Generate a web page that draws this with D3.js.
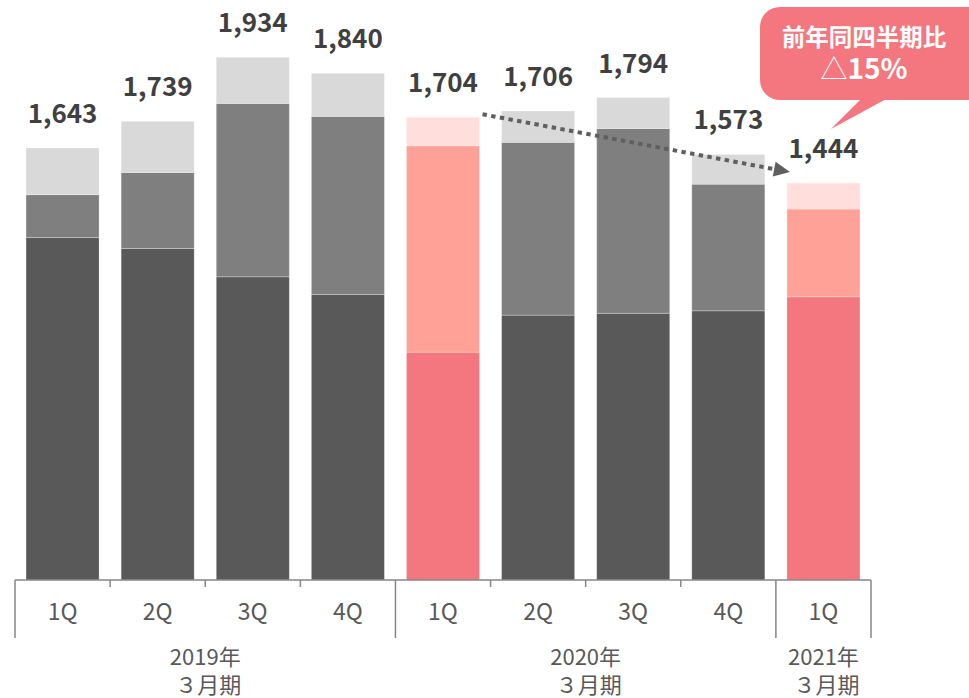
<!DOCTYPE html>
<html>
<head>
<meta charset="utf-8">
<script src="https://cdn.jsdelivr.net/npm/d3@7"></script>
<style>
  body { margin: 0; background: #fff; }
  svg { display: block; }
</style>
</head>
<body>
<div id="chart"></div>
<script>
// quarters on the axis
const quarters = ["1Q", "2Q", "3Q", "4Q", "1Q", "2Q", "3Q", "4Q", "1Q"];
// fiscal periods (first / last quarter index)
const periods = [
  { lines: ["2019年", "３月期"], from: 0, to: 3 },
  { lines: ["2020年", "３月期"], from: 4, to: 7 },
  { lines: ["2021年", "３月期"], from: 8, to: 8 }
];
// stacked segments, bottom to top
const segBottom = [1268, 1228, 1123, 1058, 844, 981, 988, 997, 1049];
const segMiddle = [159, 281, 642, 659, 764, 640, 684, 469, 325];
const segTop = [173, 190, 171, 160, 106, 116, 115, 110, 96];
// labels shown above the bars
const totals = [1643, 1739, 1934, 1840, 1704, 1706, 1794, 1573, 1444];
// quarters drawn in the highlight colours
const highlighted = [false, false, false, false, true, false, false, false, true];

const callout = ["前年同四半期比", "15%"];

const GREYS = ["#595959", "#7f7f7f", "#d9d9d9"];
const PINKS = ["#f4777f", "#ffa197", "#ffdedb"];
const FONT = "'Noto Sans CJK JP', 'Noto Sans', sans-serif";

const width = 969, height = 698;
const svg = d3.select("#chart").append("svg")
  .attr("width", width)
  .attr("height", height);

const x = d3.scaleBand()
  .domain(d3.range(quarters.length))
  .range([15, 871])
  .paddingInner(0.232)
  .paddingOuter(0.116);
const step = x.step();
const bw = x.bandwidth();

const y = d3.scaleLinear().domain([0, 2000]).range([580, 40]);

const rows = quarters.map((q, i) => ({
  i, q, a: segBottom[i], b: segMiddle[i], c: segTop[i], total: totals[i], hi: highlighted[i]
}));
const stack = d3.stack().keys(["a", "b", "c"]);
const series = stack(rows);

// bars
const barsG = svg.append("g");
series.forEach((s, k) => {
  barsG.append("g").selectAll("rect")
    .data(s)
    .join("rect")
    .attr("x", d => x(d.data.i))
    .attr("width", bw)
    .attr("y", d => y(d[1]))
    .attr("height", d => y(d[0]) - y(d[1]))
    .attr("fill", d => (d.data.hi ? PINKS : GREYS)[k])
    .attr("stroke", "#ffffff")
    .attr("stroke-opacity", 0.35)
    .attr("stroke-width", 0.8);
});

// value labels
const topOf = i => y(series[2][i][1]);
svg.append("g").selectAll("text")
  .data(rows)
  .join("text")
  .attr("x", d => x(d.i) + bw / 2)
  .attr("y", d => topOf(d.i) - 25)
  .attr("text-anchor", "middle")
  .style("font-family", FONT)
  .style("font-size", "26px")
  .style("font-weight", 700)
  .style("fill", "#404040")
  .text(d => d3.format(",")(d.total));

// axis
const axisY = y(0);
const axisG = svg.append("g").attr("stroke", "#868686").attr("stroke-width", 1.5);
axisG.append("line")
  .attr("x1", x.range()[0]).attr("x2", x.range()[1])
  .attr("y1", axisY).attr("y2", axisY);

const boundaries = d3.range(quarters.length + 1);
const longTicks = new Set([0, ...periods.map(p => p.to + 1)]);
axisG.selectAll("line.tick")
  .data(boundaries)
  .join("line")
  .attr("class", "tick")
  .attr("x1", b => x.range()[0] + b * step)
  .attr("x2", b => x.range()[0] + b * step)
  .attr("y1", axisY)
  .attr("y2", b => longTicks.has(b) ? axisY + 58 : axisY + 7);

svg.append("g").selectAll("text")
  .data(rows)
  .join("text")
  .attr("x", d => x(d.i) + bw / 2)
  .attr("y", axisY + 40)
  .attr("text-anchor", "middle")
  .style("font-family", FONT)
  .style("font-size", "23px")
  .style("fill", "#595959")
  .text(d => d.q);

const periodG = svg.append("g");
periods.forEach(p => {
  const cx = (x.range()[0] + p.from * step + x.range()[0] + (p.to + 1) * step) / 2;
  p.lines.forEach((ln, j) => {
    periodG.append("text")
      .attr("x", cx + j * 3)
      .attr("y", axisY + 85 + j * 28)
      .attr("text-anchor", "middle")
      .style("font-family", FONT)
      .style("font-size", "22px")
      .style("fill", "#595959")
      .text(ln);
  });
});

// dotted trend arrow from 2020 1Q to 2021 1Q
const p0 = [x(4) + bw + 3, topOf(4) - 3];
const p1 = [x(8) + 3, topOf(8) - 11];
const ang = Math.atan2(p1[1] - p0[1], p1[0] - p0[0]);
const headLen = 16, headHalf = 7.5;
const base = [p1[0] - headLen * Math.cos(ang), p1[1] - headLen * Math.sin(ang)];
svg.append("line")
  .attr("x1", p0[0]).attr("y1", p0[1])
  .attr("x2", base[0]).attr("y2", base[1])
  .attr("stroke", "#5f5f5f")
  .attr("stroke-width", 4)
  .attr("stroke-dasharray", "4.4 4.4");
const nx = -Math.sin(ang), ny = Math.cos(ang);
svg.append("path")
  .attr("d", `M${p1[0]},${p1[1]} L${base[0] + nx * headHalf},${base[1] + ny * headHalf} L${base[0] - nx * headHalf},${base[1] - ny * headHalf} Z`)
  .attr("fill", "#5f5f5f");

// callout bubble
const bub = svg.append("g");
bub.append("rect")
  .attr("x", 760).attr("y", 7)
  .attr("width", 230).attr("height", 93)
  .attr("rx", 20).attr("ry", 20)
  .attr("fill", PINKS[0]);
bub.append("path")
  .attr("d", "M862,98 L831,129 L888,98 Z")
  .attr("fill", PINKS[0]);
bub.append("text")
  .attr("x", 864).attr("y", 46)
  .attr("text-anchor", "middle")
  .style("font-family", FONT)
  .style("font-size", "23.5px")
  .style("font-weight", 700)
  .style("fill", "#ffffff")
  .text(callout[0]);
const t2 = bub.append("text")
  .attr("x", 864).attr("y", 79)
  .attr("text-anchor", "middle")
  .style("font-family", FONT)
  .style("fill", "#ffffff");
t2.append("tspan").style("font-size", "27px").style("font-weight", 300).text("△");
t2.append("tspan").style("font-size", "28px").style("font-weight", 700).text(callout[1]);
</script>
</body>
</html>
